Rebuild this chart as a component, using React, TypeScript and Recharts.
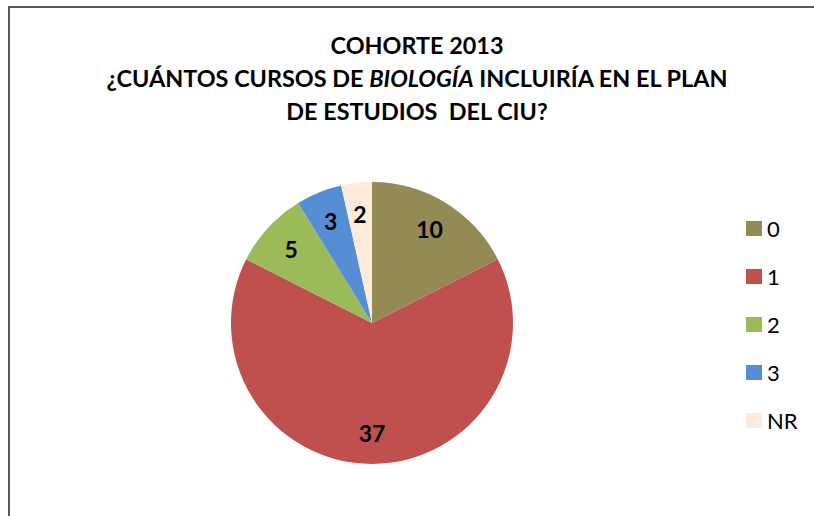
import { Cell, Legend, Pie, PieChart } from 'recharts';

const categories = ['0', '1', '2', '3', 'NR'];
const counts = [10, 37, 5, 3, 2];
const colors = ['#948A54', '#C0504D', '#9BBB59', '#558ED5', '#FDEADA'];

const titleLines = ['COHORTE 2013', '¿CUÁNTOS CURSOS DE ', 'BIOLOGÍA', ' INCLUIRÍA EN EL PLAN', 'DE ESTUDIOS  DEL CIU?'];

const data = categories.map((name, i) => ({ name, value: counts[i], color: colors[i] }));

const FONT = 'Lato, "Open Sans", sans-serif';
const RAD = Math.PI / 180;

// Labels sit at roughly 78% of the radius, like the spreadsheet default.
function renderLabel(props: any) {
  const { cx, cy, midAngle, outerRadius, value } = props;
  const r = outerRadius * 0.78;
  const x = cx + r * Math.cos(-midAngle * RAD);
  const y = cy + r * Math.sin(-midAngle * RAD);
  return (
    <text
      x={x}
      y={y}
      textAnchor="middle"
      dominantBaseline="central"
      fontFamily={FONT}
      fontWeight={700}
      fontSize={23}
      fill="#000"
    >
      {value}
    </text>
  );
}

function LegendList() {
  return (
    <div>
      {data.map((d) => (
        <div key={d.name} style={{ display: 'flex', alignItems: 'center', height: 48 }}>
          <span style={{ display: 'inline-block', width: 16, height: 15, background: d.color, marginRight: 5 }} />
          <span style={{ fontFamily: FONT, fontSize: 22, color: '#000' }}>{d.name}</span>
        </div>
      ))}
    </div>
  );
}

export default function App() {
  return (
    <div
      style={{
        position: 'absolute',
        left: 8,
        top: 6,
        width: 804,
        height: 508,
        borderTop: '2px solid #5a5a5a',
        borderLeft: '2px solid #5a5a5a',
        background: '#fff',
        overflow: 'hidden',
      }}
    >
      <div
        style={{
          position: 'absolute',
          left: 0,
          top: 21,
          width: 814,
          textAlign: 'center',
          fontFamily: FONT,
          fontWeight: 700,
          fontSize: 23.4,
          lineHeight: '33px',
          color: '#000',
        }}
      >
        <div>{titleLines[0]}</div>
        <div>
          {titleLines[1]}
          <i>{titleLines[2]}</i>
          {titleLines[3]}
        </div>
        <div style={{ whiteSpace: 'pre' }}>{titleLines[4]}</div>
      </div>
      <PieChart
        width={804}
        height={508}
        margin={{ top: 0, right: 0, bottom: 0, left: 0 }}
        style={{ position: 'absolute', left: 0, top: 0 }}
      >
        <Pie
          data={data}
          dataKey="value"
          nameKey="name"
          cx={362}
          cy={315}
          outerRadius={141}
          startAngle={90}
          endAngle={-270}
          stroke="none"
          label={renderLabel}
          labelLine={false}
          isAnimationActive={false}
        >
          {data.map((d) => (
            <Cell key={d.name} fill={d.color} />
          ))}
        </Pie>
        <Legend
          layout="vertical"
          content={() => <LegendList />}
          wrapperStyle={{ position: 'absolute', left: 736, top: 196, width: 70, height: 240 }}
        />
      </PieChart>
    </div>
  );
}
